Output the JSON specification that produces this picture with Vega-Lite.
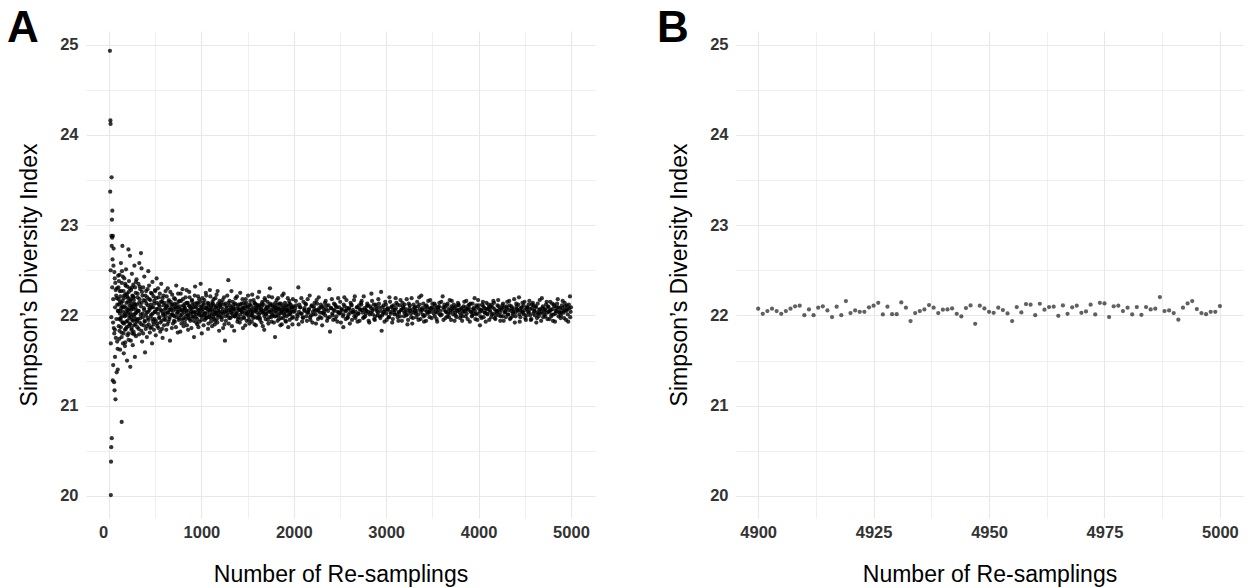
{
"$schema": "https://vega.github.io/schema/vega-lite/v6.json",
"background": "white",
"autosize": {"type": "pad"},
"padding": {"left": 7, "top": 6, "right": 4, "bottom": 4},
"spacing": 141,
"bounds": "flush",
"config": {
  "view": {"stroke": null},
  "font": "Liberation Sans",
  "axis": {
    "domain": false, "ticks": false, "labelFlush": false,
    "labelFont": "Liberation Sans", "labelFontSize": 16.5, "labelFontWeight": "bold", "labelColor": "#333333",
    "titleFont": "Liberation Sans", "titleFontSize": 23, "titleFontWeight": "normal", "titleColor": "#000000",
    "gridColor": "#E8E8E8"
  }
},
"datasets": {
"a": [
{"n":10,"sdi":24.93},{"n":15,"sdi":24.16},{"n":17,"sdi":24.12},{"n":28,"sdi":23.53},{"n":13,"sdi":23.37},{"n":36,"sdi":23.16},{"n":32,"sdi":23.06},{"n":20,"sdi":20.01},{"n":22,"sdi":20.38},{"n":24,"sdi":20.54},{"n":30,"sdi":20.64},{"n":137,"sdi":20.82},{"n":70,"sdi":21.07},{"n":60,"sdi":21.17},{"n":40,"sdi":21.28},{"n":55,"sdi":21.26},{"n":83,"sdi":21.37},{"n":95,"sdi":21.40},{"n":45,"sdi":21.45},{"n":65,"sdi":21.54},{"n":20,"sdi":21.69},{"n":26,"sdi":22.88},{"n":34,"sdi":22.86},{"n":42,"sdi":22.88},{"n":30,"sdi":22.77},{"n":50,"sdi":22.74},{"n":38,"sdi":22.62},{"n":48,"sdi":22.55},{"n":58,"sdi":22.48},{"n":62,"sdi":22.41},{"n":68,"sdi":22.36},{"n":72,"sdi":22.28},{"n":78,"sdi":22.22},{"n":85,"sdi":22.19},{"n":90,"sdi":22.12},{"n":96,"sdi":22.05},{"n":25,"sdi":21.98},{"n":44,"sdi":21.92},{"n":52,"sdi":21.86},{"n":57,"sdi":21.80},{"n":74,"sdi":21.75},{"n":88,"sdi":21.71},{"n":93,"sdi":21.63},{"n":35,"sdi":22.31},{"n":46,"sdi":22.18},{"n":66,"sdi":22.09},{"n":80,"sdi":21.96},{"n":99,"sdi":22.44},{"n":18,"sdi":22.50},{"n":64,"sdi":21.84},{"n":86,"sdi":22.30},
{"n":102,"sdi":22.31},{"n":105,"sdi":21.88},{"n":108,"sdi":22.12},{"n":111,"sdi":21.74},{"n":114,"sdi":22.45},{"n":117,"sdi":22.02},{"n":120,"sdi":21.62},{"n":123,"sdi":22.21},{"n":126,"sdi":21.95},{"n":129,"sdi":22.58},{"n":132,"sdi":22.08},{"n":135,"sdi":21.81},{"n":138,"sdi":22.36},{"n":141,"sdi":21.99},{"n":145,"sdi":22.77},{"n":148,"sdi":22.16},{"n":151,"sdi":21.69},{"n":154,"sdi":22.04},{"n":157,"sdi":22.27},{"n":160,"sdi":21.58},{"n":163,"sdi":21.91},{"n":166,"sdi":22.41},{"n":169,"sdi":22.10},{"n":172,"sdi":21.84},{"n":175,"sdi":21.70},{"n":178,"sdi":22.23},{"n":181,"sdi":22.00},{"n":184,"sdi":22.51},{"n":187,"sdi":21.93},{"n":190,"sdi":22.14},{"n":195,"sdi":21.50},{"n":198,"sdi":22.32},{"n":201,"sdi":21.78},{"n":204,"sdi":22.06},{"n":207,"sdi":22.19},{"n":210,"sdi":22.73},{"n":213,"sdi":21.88},{"n":216,"sdi":22.38},{"n":219,"sdi":21.97},{"n":222,"sdi":22.11},{"n":227,"sdi":22.66},{"n":230,"sdi":21.43},{"n":233,"sdi":22.02},{"n":236,"sdi":21.72},{"n":239,"sdi":22.28},{"n":242,"sdi":22.13},{"n":245,"sdi":21.86},{"n":248,"sdi":22.46},{"n":251,"sdi":21.95},{"n":254,"sdi":22.22},{"n":257,"sdi":21.67},{"n":260,"sdi":22.07},{"n":263,"sdi":22.34},{"n":266,"sdi":21.82},{"n":269,"sdi":22.17},{"n":272,"sdi":21.99},{"n":275,"sdi":22.55},{"n":280,"sdi":21.54},{"n":283,"sdi":22.09},{"n":286,"sdi":21.90},{"n":289,"sdi":22.25},{"n":292,"sdi":21.77},{"n":295,"sdi":22.03},{"n":298,"sdi":22.40},
{"n":104,"sdi":22.18},{"n":110,"sdi":21.96},{"n":116,"sdi":22.27},{"n":122,"sdi":22.05},{"n":128,"sdi":21.87},{"n":134,"sdi":22.14},{"n":140,"sdi":22.49},{"n":146,"sdi":21.92},{"n":152,"sdi":22.09},{"n":158,"sdi":21.80},{"n":164,"sdi":22.22},{"n":170,"sdi":21.99},{"n":176,"sdi":22.35},{"n":182,"sdi":21.85},{"n":188,"sdi":22.04},{"n":194,"sdi":22.24},{"n":200,"sdi":21.94},{"n":206,"sdi":22.15},{"n":212,"sdi":21.73},{"n":218,"sdi":22.07},{"n":224,"sdi":22.30},{"n":228,"sdi":21.90},{"n":234,"sdi":22.18},{"n":240,"sdi":21.98},{"n":246,"sdi":22.10},{"n":252,"sdi":21.80},{"n":258,"sdi":22.21},{"n":264,"sdi":22.01},{"n":270,"sdi":21.89},{"n":276,"sdi":22.13},{"n":282,"sdi":22.31},{"n":288,"sdi":21.96},{"n":294,"sdi":22.06},
{"n":101,"sdi":22.05},{"n":107,"sdi":22.38},{"n":113,"sdi":21.83},{"n":119,"sdi":22.15},{"n":125,"sdi":21.97},{"n":131,"sdi":22.27},{"n":137,"sdi":21.76},{"n":143,"sdi":22.10},{"n":149,"sdi":22.43},{"n":155,"sdi":21.92},{"n":161,"sdi":22.19},{"n":167,"sdi":22.01},{"n":173,"sdi":21.66},{"n":179,"sdi":22.33},{"n":185,"sdi":22.08},{"n":191,"sdi":21.87},{"n":197,"sdi":22.21},{"n":203,"sdi":22.03},{"n":209,"sdi":21.80},{"n":215,"sdi":22.26},{"n":221,"sdi":22.00},{"n":225,"sdi":21.91},{"n":231,"sdi":22.16},{"n":237,"sdi":22.06},{"n":243,"sdi":21.84},{"n":249,"sdi":22.31},{"n":255,"sdi":22.09},{"n":261,"sdi":21.94},{"n":267,"sdi":22.20},{"n":273,"sdi":21.79},{"n":279,"sdi":22.12},{"n":285,"sdi":22.02},{"n":291,"sdi":22.37},{"n":297,"sdi":21.93},
{"n":328,"sdi":22.58},{"n":346,"sdi":22.69},{"n":352,"sdi":22.52},{"n":390,"sdi":21.59},{"n":425,"sdi":22.49},{"n":515,"sdi":22.41},
{"n":302,"sdi":22.12},{"n":306,"sdi":21.87},{"n":310,"sdi":22.24},{"n":314,"sdi":21.96},{"n":318,"sdi":22.35},{"n":322,"sdi":22.05},{"n":326,"sdi":21.79},{"n":330,"sdi":22.18},{"n":334,"sdi":21.92},{"n":338,"sdi":22.29},{"n":342,"sdi":22.01},{"n":350,"sdi":21.83},{"n":354,"sdi":22.14},{"n":358,"sdi":21.71},{"n":362,"sdi":22.22},{"n":366,"sdi":21.98},{"n":370,"sdi":22.31},{"n":374,"sdi":21.89},{"n":378,"sdi":22.08},{"n":382,"sdi":22.43},{"n":386,"sdi":21.94},{"n":394,"sdi":22.16},{"n":398,"sdi":21.85},{"n":402,"sdi":22.27},{"n":406,"sdi":22.03},{"n":410,"sdi":21.76},{"n":414,"sdi":22.20},{"n":418,"sdi":21.97},{"n":422,"sdi":22.11},{"n":430,"sdi":21.90},{"n":434,"sdi":22.33},{"n":438,"sdi":22.06},{"n":442,"sdi":21.81},{"n":446,"sdi":22.17},{"n":450,"sdi":21.99},{"n":454,"sdi":22.25},{"n":458,"sdi":21.87},{"n":462,"sdi":22.09},{"n":466,"sdi":21.69},{"n":470,"sdi":22.37},{"n":474,"sdi":22.02},{"n":478,"sdi":21.93},{"n":482,"sdi":22.21},{"n":486,"sdi":21.84},{"n":490,"sdi":22.13},{"n":494,"sdi":21.96},{"n":498,"sdi":22.28},{"n":502,"sdi":22.04},{"n":506,"sdi":21.78},{"n":510,"sdi":22.19},{"n":520,"sdi":21.91},{"n":525,"sdi":22.07},{"n":530,"sdi":22.30},{"n":535,"sdi":21.86},{"n":540,"sdi":22.12},{"n":545,"sdi":21.98},{"n":550,"sdi":22.24},{"n":555,"sdi":21.82},{"n":560,"sdi":22.06},{"n":565,"sdi":22.35},{"n":570,"sdi":21.94},{"n":575,"sdi":22.15},{"n":580,"sdi":21.75},{"n":585,"sdi":22.02},{"n":590,"sdi":22.22},{"n":595,"sdi":21.89},
{"n":303,"sdi":21.95},{"n":309,"sdi":22.20},{"n":315,"sdi":22.05},{"n":321,"sdi":21.85},{"n":327,"sdi":22.14},{"n":333,"sdi":22.32},{"n":339,"sdi":21.97},{"n":345,"sdi":22.10},{"n":351,"sdi":21.90},{"n":357,"sdi":22.26},{"n":363,"sdi":22.02},{"n":369,"sdi":21.80},{"n":375,"sdi":22.17},{"n":381,"sdi":22.06},{"n":387,"sdi":21.93},{"n":393,"sdi":22.22},{"n":399,"sdi":22.00},{"n":405,"sdi":22.13},{"n":411,"sdi":21.88},{"n":417,"sdi":22.29},{"n":423,"sdi":22.04},{"n":429,"sdi":21.95},{"n":435,"sdi":22.18},{"n":441,"sdi":22.08},{"n":447,"sdi":21.86},{"n":453,"sdi":22.12},{"n":459,"sdi":22.01},{"n":465,"sdi":22.24},{"n":471,"sdi":21.96},{"n":477,"sdi":22.09},{"n":483,"sdi":21.90},{"n":489,"sdi":22.16},{"n":495,"sdi":22.04},{"n":501,"sdi":22.27},{"n":507,"sdi":21.94},{"n":513,"sdi":22.07},{"n":519,"sdi":22.14},{"n":524,"sdi":21.88},{"n":531,"sdi":22.02},{"n":537,"sdi":22.20},{"n":543,"sdi":21.97},{"n":549,"sdi":22.10},{"n":556,"sdi":21.92},{"n":562,"sdi":22.15},{"n":568,"sdi":22.05},{"n":574,"sdi":21.85},{"n":579,"sdi":22.19},{"n":586,"sdi":22.00},{"n":592,"sdi":22.11},{"n":597,"sdi":21.96},
{"n":600,"sdi":22.14},{"n":608,"sdi":21.95},{"n":616,"sdi":22.08},{"n":624,"sdi":22.21},{"n":632,"sdi":21.90},{"n":640,"sdi":22.03},{"n":648,"sdi":22.17},{"n":656,"sdi":21.98},{"n":664,"sdi":22.26},{"n":672,"sdi":22.06},{"n":680,"sdi":21.86},{"n":688,"sdi":22.12},{"n":696,"sdi":22.00},{"n":704,"sdi":22.19},{"n":712,"sdi":21.93},{"n":720,"sdi":22.09},{"n":728,"sdi":22.33},{"n":736,"sdi":22.02},{"n":744,"sdi":21.81},{"n":752,"sdi":22.15},{"n":760,"sdi":21.97},{"n":768,"sdi":22.10},{"n":776,"sdi":22.24},{"n":784,"sdi":21.91},{"n":792,"sdi":22.05},{"n":800,"sdi":22.18},{"n":808,"sdi":21.88},{"n":816,"sdi":22.07},{"n":824,"sdi":22.13},{"n":832,"sdi":21.96},{"n":840,"sdi":22.28},{"n":848,"sdi":22.01},{"n":856,"sdi":21.84},{"n":864,"sdi":22.11},{"n":872,"sdi":22.20},{"n":880,"sdi":21.94},{"n":888,"sdi":22.04},{"n":896,"sdi":22.16},{"n":904,"sdi":21.99},{"n":912,"sdi":22.09},{"n":920,"sdi":21.76},{"n":928,"sdi":22.22},{"n":936,"sdi":22.03},{"n":944,"sdi":21.92},{"n":952,"sdi":22.14},{"n":960,"sdi":22.06},{"n":968,"sdi":21.87},{"n":976,"sdi":22.18},{"n":984,"sdi":22.00},{"n":992,"sdi":22.35},{"n":1000,"sdi":21.95},{"n":1008,"sdi":22.10},{"n":1016,"sdi":22.04},{"n":1024,"sdi":21.89},{"n":1032,"sdi":22.17},{"n":1040,"sdi":22.02},{"n":1048,"sdi":22.25},{"n":1056,"sdi":21.97},{"n":1064,"sdi":22.08},{"n":1072,"sdi":21.85},{"n":1080,"sdi":22.13},{"n":1088,"sdi":22.01},{"n":1096,"sdi":22.21},{"n":1104,"sdi":21.93},{"n":1112,"sdi":22.07},{"n":1120,"sdi":22.15},{"n":1128,"sdi":21.98},{"n":1136,"sdi":22.11},{"n":1144,"sdi":21.90},{"n":1152,"sdi":22.19},{"n":1160,"sdi":22.03},{"n":1168,"sdi":21.96},{"n":1176,"sdi":22.27},{"n":1184,"sdi":22.05},{"n":1192,"sdi":21.83},{"n":1200,"sdi":22.12},
{"n":604,"sdi":22.02},{"n":612,"sdi":22.27},{"n":620,"sdi":21.84},{"n":628,"sdi":22.11},{"n":636,"sdi":22.30},{"n":644,"sdi":21.93},{"n":652,"sdi":22.06},{"n":660,"sdi":21.72},{"n":668,"sdi":22.15},{"n":676,"sdi":22.01},{"n":684,"sdi":22.23},{"n":692,"sdi":21.91},{"n":700,"sdi":22.09},{"n":708,"sdi":21.99},{"n":716,"sdi":22.18},{"n":724,"sdi":21.87},{"n":732,"sdi":22.12},{"n":740,"sdi":22.04},{"n":748,"sdi":22.24},{"n":756,"sdi":21.95},{"n":764,"sdi":22.07},{"n":772,"sdi":21.82},{"n":780,"sdi":22.16},{"n":788,"sdi":22.01},{"n":796,"sdi":22.29},{"n":804,"sdi":21.97},{"n":812,"sdi":22.10},{"n":820,"sdi":21.92},{"n":828,"sdi":22.20},{"n":836,"sdi":22.05},{"n":844,"sdi":21.89},{"n":852,"sdi":22.14},{"n":860,"sdi":22.00},{"n":868,"sdi":22.26},{"n":876,"sdi":21.96},{"n":884,"sdi":22.08},{"n":892,"sdi":21.86},{"n":900,"sdi":22.17},{"n":908,"sdi":22.03},{"n":916,"sdi":21.94},{"n":924,"sdi":22.13},{"n":932,"sdi":22.32},{"n":940,"sdi":21.98},{"n":948,"sdi":22.10},{"n":956,"sdi":21.90},{"n":964,"sdi":22.21},{"n":972,"sdi":22.02},{"n":980,"sdi":21.93},{"n":988,"sdi":22.15},{"n":996,"sdi":22.07},{"n":1004,"sdi":21.80},{"n":1012,"sdi":22.19},{"n":1020,"sdi":22.00},{"n":1028,"sdi":22.12},{"n":1036,"sdi":21.95},{"n":1044,"sdi":22.08},{"n":1052,"sdi":22.22},{"n":1060,"sdi":21.99},{"n":1068,"sdi":22.14},{"n":1076,"sdi":21.91},{"n":1084,"sdi":22.06},{"n":1092,"sdi":22.28},{"n":1100,"sdi":21.97},{"n":1108,"sdi":22.11},{"n":1116,"sdi":21.88},{"n":1124,"sdi":22.04},{"n":1132,"sdi":22.18},{"n":1140,"sdi":22.01},{"n":1148,"sdi":21.94},{"n":1156,"sdi":22.09},{"n":1164,"sdi":22.23},{"n":1172,"sdi":21.92},{"n":1180,"sdi":22.13},{"n":1188,"sdi":22.00},{"n":1196,"sdi":22.16},
{"n":603,"sdi":22.06},{"n":613,"sdi":21.99},{"n":623,"sdi":22.10},{"n":633,"sdi":22.03},{"n":643,"sdi":22.15},{"n":653,"sdi":21.96},{"n":663,"sdi":22.08},{"n":673,"sdi":22.12},{"n":683,"sdi":22.01},{"n":693,"sdi":22.05},{"n":703,"sdi":21.94},{"n":713,"sdi":22.13},{"n":723,"sdi":22.07},{"n":733,"sdi":21.98},{"n":743,"sdi":22.09},{"n":753,"sdi":22.04},{"n":763,"sdi":22.16},{"n":773,"sdi":22.00},{"n":783,"sdi":22.06},{"n":793,"sdi":21.95},{"n":803,"sdi":22.11},{"n":813,"sdi":22.03},{"n":823,"sdi":22.08},{"n":833,"sdi":21.99},{"n":843,"sdi":22.14},{"n":853,"sdi":22.05},{"n":863,"sdi":21.97},{"n":873,"sdi":22.10},{"n":883,"sdi":22.02},{"n":893,"sdi":22.07},{"n":903,"sdi":22.12},{"n":913,"sdi":21.98},{"n":923,"sdi":22.04},{"n":933,"sdi":22.09},{"n":943,"sdi":22.01},{"n":953,"sdi":21.96},{"n":963,"sdi":22.13},{"n":973,"sdi":22.06},{"n":983,"sdi":22.03},{"n":993,"sdi":22.10},{"n":1003,"sdi":21.99},{"n":1013,"sdi":22.07},{"n":1023,"sdi":22.14},{"n":1033,"sdi":22.02},{"n":1043,"sdi":21.97},{"n":1053,"sdi":22.08},{"n":1063,"sdi":22.04},{"n":1073,"sdi":22.11},{"n":1083,"sdi":21.98},{"n":1093,"sdi":22.05},{"n":1103,"sdi":22.09},{"n":1113,"sdi":22.01},{"n":1123,"sdi":22.13},{"n":1133,"sdi":21.96},{"n":1143,"sdi":22.06},{"n":1153,"sdi":22.03},{"n":1163,"sdi":22.10},{"n":1173,"sdi":22.00},{"n":1183,"sdi":22.08},{"n":1193,"sdi":22.04},
{"n":1210,"sdi":22.09},{"n":1220,"sdi":21.95},{"n":1230,"sdi":22.17},{"n":1240,"sdi":22.02},{"n":1250,"sdi":21.90},{"n":1255,"sdi":21.72},{"n":1260,"sdi":22.13},{"n":1270,"sdi":22.05},{"n":1280,"sdi":22.22},{"n":1291,"sdi":22.39},{"n":1300,"sdi":21.97},{"n":1310,"sdi":22.11},{"n":1320,"sdi":22.03},{"n":1330,"sdi":21.88},{"n":1340,"sdi":22.15},{"n":1350,"sdi":22.07},{"n":1360,"sdi":21.99},{"n":1370,"sdi":22.19},{"n":1380,"sdi":22.01},{"n":1390,"sdi":21.93},{"n":1400,"sdi":22.12},{"n":1410,"sdi":22.06},{"n":1420,"sdi":22.25},{"n":1430,"sdi":21.96},{"n":1440,"sdi":22.08},{"n":1450,"sdi":21.86},{"n":1460,"sdi":22.14},{"n":1470,"sdi":22.02},{"n":1480,"sdi":22.18},{"n":1490,"sdi":21.94},{"n":1500,"sdi":22.10},{"n":1510,"sdi":22.04},{"n":1520,"sdi":21.91},{"n":1530,"sdi":22.16},{"n":1540,"sdi":22.00},{"n":1550,"sdi":22.23},{"n":1560,"sdi":21.97},{"n":1570,"sdi":22.09},{"n":1580,"sdi":22.13},{"n":1590,"sdi":21.89},{"n":1600,"sdi":22.06},{"n":1610,"sdi":22.20},{"n":1620,"sdi":21.98},{"n":1630,"sdi":22.11},{"n":1640,"sdi":22.03},{"n":1650,"sdi":21.92},{"n":1660,"sdi":22.15},{"n":1670,"sdi":22.05},{"n":1680,"sdi":21.84},{"n":1690,"sdi":22.17},{"n":1700,"sdi":22.01},{"n":1710,"sdi":22.10},{"n":1720,"sdi":21.95},{"n":1730,"sdi":22.21},{"n":1742,"sdi":22.30},{"n":1750,"sdi":22.04},{"n":1760,"sdi":21.93},{"n":1770,"sdi":22.12},{"n":1780,"sdi":22.07},{"n":1797,"sdi":21.76},{"n":1800,"sdi":22.14},{"n":1810,"sdi":21.99},{"n":1820,"sdi":22.08},{"n":1830,"sdi":22.19},{"n":1840,"sdi":21.96},{"n":1850,"sdi":22.02},{"n":1860,"sdi":22.13},{"n":1870,"sdi":21.90},{"n":1880,"sdi":22.06},{"n":1890,"sdi":22.24},{"n":1900,"sdi":22.00},{"n":1910,"sdi":21.94},{"n":1920,"sdi":22.11},{"n":1930,"sdi":22.05},{"n":1940,"sdi":21.87},{"n":1950,"sdi":22.16},{"n":1960,"sdi":22.03},{"n":1970,"sdi":22.09},{"n":1980,"sdi":21.97},{"n":1990,"sdi":22.18},{"n":2000,"sdi":22.04},
{"n":1205,"sdi":21.98},{"n":1215,"sdi":22.14},{"n":1225,"sdi":22.04},{"n":1235,"sdi":21.86},{"n":1245,"sdi":22.20},{"n":1265,"sdi":21.94},{"n":1275,"sdi":22.10},{"n":1285,"sdi":22.00},{"n":1295,"sdi":21.91},{"n":1305,"sdi":22.16},{"n":1315,"sdi":22.06},{"n":1325,"sdi":22.27},{"n":1335,"sdi":21.99},{"n":1345,"sdi":22.09},{"n":1355,"sdi":21.83},{"n":1365,"sdi":22.13},{"n":1375,"sdi":22.02},{"n":1385,"sdi":22.21},{"n":1395,"sdi":21.96},{"n":1405,"sdi":22.07},{"n":1415,"sdi":21.92},{"n":1425,"sdi":22.12},{"n":1435,"sdi":22.04},{"n":1445,"sdi":22.18},{"n":1455,"sdi":21.98},{"n":1465,"sdi":22.08},{"n":1475,"sdi":21.89},{"n":1485,"sdi":22.14},{"n":1495,"sdi":22.01},{"n":1505,"sdi":22.22},{"n":1515,"sdi":21.95},{"n":1525,"sdi":22.06},{"n":1535,"sdi":22.11},{"n":1545,"sdi":21.93},{"n":1555,"sdi":22.03},{"n":1565,"sdi":22.17},{"n":1575,"sdi":21.90},{"n":1585,"sdi":22.05},{"n":1595,"sdi":22.12},{"n":1605,"sdi":21.97},{"n":1615,"sdi":22.09},{"n":1625,"sdi":22.26},{"n":1635,"sdi":21.95},{"n":1645,"sdi":22.07},{"n":1655,"sdi":22.13},{"n":1665,"sdi":21.88},{"n":1675,"sdi":22.02},{"n":1685,"sdi":22.19},{"n":1695,"sdi":21.96},{"n":1705,"sdi":22.08},{"n":1715,"sdi":22.15},{"n":1725,"sdi":21.91},{"n":1735,"sdi":22.04},{"n":1745,"sdi":22.11},{"n":1755,"sdi":21.98},{"n":1765,"sdi":22.20},{"n":1775,"sdi":22.00},{"n":1785,"sdi":21.92},{"n":1795,"sdi":22.10},{"n":1805,"sdi":22.05},{"n":1815,"sdi":22.17},{"n":1825,"sdi":21.94},{"n":1835,"sdi":22.07},{"n":1845,"sdi":22.13},{"n":1855,"sdi":21.89},{"n":1865,"sdi":22.03},{"n":1875,"sdi":22.22},{"n":1885,"sdi":21.97},{"n":1895,"sdi":22.09},{"n":1905,"sdi":22.14},{"n":1915,"sdi":21.93},{"n":1925,"sdi":22.06},{"n":1935,"sdi":22.19},{"n":1945,"sdi":22.01},{"n":1955,"sdi":21.95},{"n":1965,"sdi":22.12},{"n":1975,"sdi":22.07},{"n":1985,"sdi":21.90},{"n":1995,"sdi":22.10},
{"n":1203,"sdi":22.11},{"n":1213,"sdi":22.02},{"n":1223,"sdi":21.98},{"n":1233,"sdi":22.07},{"n":1243,"sdi":22.12},{"n":1253,"sdi":22.04},{"n":1263,"sdi":21.99},{"n":1273,"sdi":22.08},{"n":1283,"sdi":22.03},{"n":1293,"sdi":22.14},{"n":1303,"sdi":22.06},{"n":1313,"sdi":21.97},{"n":1323,"sdi":22.09},{"n":1333,"sdi":22.02},{"n":1343,"sdi":22.05},{"n":1353,"sdi":22.12},{"n":1363,"sdi":21.99},{"n":1373,"sdi":22.07},{"n":1383,"sdi":22.03},{"n":1393,"sdi":22.10},{"n":1403,"sdi":21.98},{"n":1413,"sdi":22.06},{"n":1423,"sdi":22.01},{"n":1433,"sdi":22.13},{"n":1443,"sdi":22.04},{"n":1453,"sdi":22.08},{"n":1463,"sdi":21.97},{"n":1473,"sdi":22.11},{"n":1483,"sdi":22.05},{"n":1493,"sdi":22.02},{"n":1503,"sdi":22.09},{"n":1513,"sdi":21.99},{"n":1523,"sdi":22.12},{"n":1533,"sdi":22.03},{"n":1543,"sdi":22.07},{"n":1553,"sdi":22.00},{"n":1563,"sdi":22.05},{"n":1573,"sdi":22.14},{"n":1583,"sdi":21.98},{"n":1593,"sdi":22.08},{"n":1603,"sdi":22.03},{"n":1613,"sdi":22.11},{"n":1623,"sdi":22.01},{"n":1633,"sdi":21.97},{"n":1643,"sdi":22.06},{"n":1653,"sdi":22.10},{"n":1663,"sdi":22.04},{"n":1673,"sdi":22.12},{"n":1683,"sdi":21.99},{"n":1693,"sdi":22.07},{"n":1703,"sdi":22.02},{"n":1713,"sdi":22.05},{"n":1723,"sdi":22.09},{"n":1733,"sdi":21.98},{"n":1743,"sdi":22.13},{"n":1753,"sdi":22.06},{"n":1763,"sdi":22.01},{"n":1773,"sdi":22.10},{"n":1783,"sdi":22.04},{"n":1793,"sdi":21.99},{"n":1803,"sdi":22.08},{"n":1813,"sdi":22.03},{"n":1823,"sdi":22.12},{"n":1833,"sdi":22.00},{"n":1843,"sdi":22.06},{"n":1853,"sdi":22.09},{"n":1863,"sdi":21.97},{"n":1873,"sdi":22.05},{"n":1883,"sdi":22.11},{"n":1893,"sdi":22.02},{"n":1903,"sdi":22.07},{"n":1913,"sdi":22.04},{"n":1923,"sdi":21.99},{"n":1933,"sdi":22.10},{"n":1943,"sdi":22.06},{"n":1953,"sdi":22.13},{"n":1963,"sdi":22.01},{"n":1973,"sdi":22.04},{"n":1983,"sdi":22.09},{"n":1993,"sdi":21.98},
{"n":2015,"sdi":22.08},{"n":2030,"sdi":21.96},{"n":2049,"sdi":22.31},{"n":2060,"sdi":22.12},{"n":2075,"sdi":22.02},{"n":2090,"sdi":21.93},{"n":2105,"sdi":22.15},{"n":2120,"sdi":22.05},{"n":2135,"sdi":21.99},{"n":2150,"sdi":22.18},{"n":2165,"sdi":22.07},{"n":2180,"sdi":21.95},{"n":2195,"sdi":22.11},{"n":2210,"sdi":22.01},{"n":2225,"sdi":22.14},{"n":2240,"sdi":21.91},{"n":2255,"sdi":22.06},{"n":2270,"sdi":22.20},{"n":2285,"sdi":22.03},{"n":2300,"sdi":21.97},{"n":2315,"sdi":22.10},{"n":2330,"sdi":22.04},{"n":2345,"sdi":22.16},{"n":2360,"sdi":21.94},{"n":2385,"sdi":22.29},{"n":2392,"sdi":21.82},{"n":2405,"sdi":22.08},{"n":2420,"sdi":22.00},{"n":2435,"sdi":22.13},{"n":2450,"sdi":21.96},{"n":2465,"sdi":22.09},{"n":2480,"sdi":22.19},{"n":2495,"sdi":22.02},{"n":2510,"sdi":21.92},{"n":2536,"sdi":21.87},{"n":2540,"sdi":22.12},{"n":2555,"sdi":22.05},{"n":2570,"sdi":22.17},{"n":2585,"sdi":21.98},{"n":2600,"sdi":22.07},{"n":2615,"sdi":22.14},{"n":2630,"sdi":21.95},{"n":2645,"sdi":22.03},{"n":2660,"sdi":22.21},{"n":2675,"sdi":22.00},{"n":2690,"sdi":21.93},{"n":2705,"sdi":22.11},{"n":2720,"sdi":22.06},{"n":2735,"sdi":22.16},{"n":2750,"sdi":21.97},{"n":2765,"sdi":22.08},{"n":2780,"sdi":22.02},{"n":2795,"sdi":22.13},{"n":2810,"sdi":21.94},{"n":2825,"sdi":22.10},{"n":2840,"sdi":22.24},{"n":2855,"sdi":22.01},{"n":2870,"sdi":21.96},{"n":2885,"sdi":22.12},{"n":2900,"sdi":22.05},{"n":2915,"sdi":22.18},{"n":2930,"sdi":21.99},{"n":2951,"sdi":21.83},{"n":2960,"sdi":22.09},{"n":2975,"sdi":22.04},{"n":2990,"sdi":22.15},{"n":3005,"sdi":21.95},{"n":3020,"sdi":22.07},{"n":3035,"sdi":22.20},{"n":3050,"sdi":22.02},{"n":3065,"sdi":21.92},{"n":3080,"sdi":22.11},{"n":3095,"sdi":22.06},{"n":3110,"sdi":22.14},{"n":3125,"sdi":21.98},{"n":3140,"sdi":22.03},{"n":3155,"sdi":22.17},{"n":3170,"sdi":21.94},{"n":3185,"sdi":22.08},{"n":3200,"sdi":22.12},{"n":3215,"sdi":22.00},{"n":3230,"sdi":21.90},{"n":3245,"sdi":22.13},{"n":3260,"sdi":22.05},{"n":3275,"sdi":22.19},{"n":3290,"sdi":21.97},{"n":3305,"sdi":22.09},{"n":3320,"sdi":22.02},{"n":3335,"sdi":22.15},{"n":3350,"sdi":21.95},{"n":3365,"sdi":22.07},{"n":3380,"sdi":22.22},{"n":3395,"sdi":22.01},{"n":3410,"sdi":21.93},{"n":3425,"sdi":22.10},{"n":3440,"sdi":22.04},{"n":3455,"sdi":22.16},{"n":3470,"sdi":21.98},{"n":3485,"sdi":22.08},{"n":3500,"sdi":22.13},
{"n":2022,"sdi":22.16},{"n":2037,"sdi":22.01},{"n":2052,"sdi":21.90},{"n":2067,"sdi":22.09},{"n":2082,"sdi":22.19},{"n":2097,"sdi":21.98},{"n":2112,"sdi":22.06},{"n":2127,"sdi":22.13},{"n":2142,"sdi":21.94},{"n":2157,"sdi":22.03},{"n":2172,"sdi":22.22},{"n":2187,"sdi":22.00},{"n":2202,"sdi":21.92},{"n":2217,"sdi":22.10},{"n":2232,"sdi":22.05},{"n":2247,"sdi":22.17},{"n":2262,"sdi":21.96},{"n":2277,"sdi":22.08},{"n":2292,"sdi":22.12},{"n":2307,"sdi":21.89},{"n":2322,"sdi":22.02},{"n":2337,"sdi":22.14},{"n":2352,"sdi":22.07},{"n":2367,"sdi":21.97},{"n":2377,"sdi":22.11},{"n":2412,"sdi":22.18},{"n":2427,"sdi":21.95},{"n":2442,"sdi":22.05},{"n":2457,"sdi":22.10},{"n":2472,"sdi":21.93},{"n":2487,"sdi":22.03},{"n":2502,"sdi":22.15},{"n":2517,"sdi":22.06},{"n":2532,"sdi":21.99},{"n":2547,"sdi":22.20},{"n":2562,"sdi":21.96},{"n":2577,"sdi":22.08},{"n":2592,"sdi":22.01},{"n":2607,"sdi":21.91},{"n":2622,"sdi":22.12},{"n":2637,"sdi":22.04},{"n":2652,"sdi":22.17},{"n":2667,"sdi":21.97},{"n":2682,"sdi":22.09},{"n":2697,"sdi":22.02},{"n":2712,"sdi":21.94},{"n":2727,"sdi":22.14},{"n":2742,"sdi":22.06},{"n":2757,"sdi":22.21},{"n":2772,"sdi":21.99},{"n":2787,"sdi":22.05},{"n":2802,"sdi":22.11},{"n":2817,"sdi":21.92},{"n":2832,"sdi":22.03},{"n":2847,"sdi":22.16},{"n":2862,"sdi":22.07},{"n":2877,"sdi":21.95},{"n":2892,"sdi":22.10},{"n":2907,"sdi":22.00},{"n":2922,"sdi":22.13},{"n":2937,"sdi":21.97},{"n":2945,"sdi":22.26},{"n":2967,"sdi":22.02},{"n":2982,"sdi":21.93},{"n":2997,"sdi":22.12},{"n":3012,"sdi":22.06},{"n":3027,"sdi":21.98},{"n":3042,"sdi":22.15},{"n":3057,"sdi":22.09},{"n":3072,"sdi":21.96},{"n":3087,"sdi":22.03},{"n":3102,"sdi":22.19},{"n":3117,"sdi":22.01},{"n":3132,"sdi":21.94},{"n":3147,"sdi":22.11},{"n":3162,"sdi":22.06},{"n":3177,"sdi":22.14},{"n":3192,"sdi":21.99},{"n":3207,"sdi":22.04},{"n":3222,"sdi":22.18},{"n":3237,"sdi":21.95},{"n":3252,"sdi":22.08},{"n":3267,"sdi":22.02},{"n":3282,"sdi":21.91},{"n":3297,"sdi":22.12},{"n":3312,"sdi":22.05},{"n":3327,"sdi":21.98},{"n":3342,"sdi":22.10},{"n":3357,"sdi":22.20},{"n":3372,"sdi":21.96},{"n":3387,"sdi":22.06},{"n":3402,"sdi":22.13},{"n":3417,"sdi":22.00},{"n":3432,"sdi":21.94},{"n":3447,"sdi":22.09},{"n":3462,"sdi":22.04},{"n":3477,"sdi":22.17},{"n":3492,"sdi":21.97},
{"n":2011,"sdi":22.05},{"n":2026,"sdi":22.11},{"n":2041,"sdi":21.99},{"n":2056,"sdi":22.04},{"n":2071,"sdi":22.09},{"n":2086,"sdi":22.02},{"n":2101,"sdi":21.97},{"n":2116,"sdi":22.08},{"n":2131,"sdi":22.12},{"n":2146,"sdi":22.03},{"n":2161,"sdi":22.06},{"n":2176,"sdi":21.98},{"n":2191,"sdi":22.10},{"n":2206,"sdi":22.04},{"n":2221,"sdi":22.07},{"n":2236,"sdi":22.01},{"n":2251,"sdi":22.13},{"n":2266,"sdi":22.05},{"n":2281,"sdi":21.98},{"n":2296,"sdi":22.09},{"n":2311,"sdi":22.03},{"n":2326,"sdi":22.07},{"n":2341,"sdi":22.00},{"n":2356,"sdi":22.11},{"n":2371,"sdi":22.05},{"n":2386,"sdi":21.98},{"n":2401,"sdi":22.08},{"n":2416,"sdi":22.02},{"n":2431,"sdi":22.06},{"n":2446,"sdi":22.12},{"n":2461,"sdi":21.99},{"n":2476,"sdi":22.04},{"n":2491,"sdi":22.09},{"n":2506,"sdi":22.03},{"n":2521,"sdi":22.07},{"n":2538,"sdi":22.01},{"n":2551,"sdi":22.10},{"n":2566,"sdi":22.05},{"n":2581,"sdi":21.97},{"n":2596,"sdi":22.08},{"n":2611,"sdi":22.03},{"n":2626,"sdi":22.11},{"n":2641,"sdi":22.06},{"n":2656,"sdi":21.99},{"n":2671,"sdi":22.04},{"n":2686,"sdi":22.09},{"n":2701,"sdi":22.02},{"n":2716,"sdi":22.07},{"n":2731,"sdi":22.12},{"n":2746,"sdi":22.03},{"n":2761,"sdi":21.98},{"n":2776,"sdi":22.06},{"n":2791,"sdi":22.10},{"n":2806,"sdi":22.04},{"n":2821,"sdi":22.01},{"n":2836,"sdi":22.08},{"n":2851,"sdi":22.05},{"n":2866,"sdi":22.12},{"n":2881,"sdi":21.99},{"n":2896,"sdi":22.07},{"n":2911,"sdi":22.03},{"n":2926,"sdi":22.09},{"n":2941,"sdi":22.05},{"n":2956,"sdi":22.00},{"n":2971,"sdi":22.11},{"n":2986,"sdi":22.06},{"n":3001,"sdi":22.02},{"n":3016,"sdi":22.08},{"n":3031,"sdi":21.98},{"n":3046,"sdi":22.04},{"n":3061,"sdi":22.10},{"n":3076,"sdi":22.06},{"n":3091,"sdi":22.01},{"n":3106,"sdi":22.08},{"n":3121,"sdi":22.12},{"n":3136,"sdi":22.04},{"n":3151,"sdi":21.99},{"n":3166,"sdi":22.06},{"n":3181,"sdi":22.10},{"n":3196,"sdi":22.03},{"n":3211,"sdi":22.07},{"n":3226,"sdi":22.01},{"n":3241,"sdi":22.05},{"n":3256,"sdi":22.11},{"n":3271,"sdi":21.98},{"n":3286,"sdi":22.06},{"n":3301,"sdi":22.03},{"n":3316,"sdi":22.09},{"n":3331,"sdi":22.05},{"n":3346,"sdi":22.01},{"n":3361,"sdi":22.12},{"n":3376,"sdi":22.04},{"n":3391,"sdi":22.08},{"n":3406,"sdi":21.99},{"n":3421,"sdi":22.06},{"n":3436,"sdi":22.11},{"n":3451,"sdi":22.02},{"n":3466,"sdi":22.07},{"n":3481,"sdi":22.04},{"n":3496,"sdi":22.09},
{"n":3515,"sdi":22.02},{"n":3530,"sdi":22.11},{"n":3545,"sdi":21.96},{"n":3560,"sdi":22.07},{"n":3575,"sdi":22.14},{"n":3590,"sdi":22.00},{"n":3611,"sdi":22.21},{"n":3620,"sdi":21.95},{"n":3635,"sdi":22.09},{"n":3650,"sdi":22.04},{"n":3665,"sdi":22.13},{"n":3680,"sdi":21.98},{"n":3695,"sdi":22.06},{"n":3710,"sdi":22.16},{"n":3725,"sdi":22.01},{"n":3740,"sdi":21.94},{"n":3755,"sdi":22.10},{"n":3770,"sdi":22.05},{"n":3785,"sdi":22.12},{"n":3800,"sdi":21.97},{"n":3815,"sdi":22.08},{"n":3830,"sdi":22.03},{"n":3845,"sdi":22.15},{"n":3860,"sdi":21.99},{"n":3875,"sdi":22.07},{"n":3890,"sdi":22.11},{"n":3905,"sdi":21.93},{"n":3920,"sdi":22.04},{"n":3935,"sdi":22.13},{"n":3950,"sdi":22.02},{"n":3965,"sdi":21.96},{"n":3980,"sdi":22.09},{"n":3995,"sdi":22.17},{"n":4015,"sdi":21.89},{"n":4025,"sdi":22.06},{"n":4040,"sdi":22.12},{"n":4055,"sdi":21.98},{"n":4070,"sdi":22.03},{"n":4085,"sdi":22.14},{"n":4100,"sdi":22.07},{"n":4115,"sdi":21.95},{"n":4130,"sdi":22.10},{"n":4145,"sdi":22.01},{"n":4160,"sdi":22.16},{"n":4175,"sdi":21.97},{"n":4190,"sdi":22.05},{"n":4205,"sdi":22.11},{"n":4220,"sdi":22.00},{"n":4235,"sdi":21.94},{"n":4250,"sdi":22.08},{"n":4265,"sdi":22.13},{"n":4280,"sdi":22.03},{"n":4295,"sdi":21.98},{"n":4310,"sdi":22.15},{"n":4325,"sdi":22.06},{"n":4340,"sdi":21.96},{"n":4355,"sdi":22.10},{"n":4370,"sdi":22.02},{"n":4385,"sdi":22.18},{"n":4400,"sdi":21.99},{"n":4415,"sdi":22.07},{"n":4430,"sdi":22.12},{"n":4445,"sdi":21.93},{"n":4460,"sdi":22.05},{"n":4475,"sdi":22.14},{"n":4490,"sdi":22.01},{"n":4505,"sdi":21.97},{"n":4520,"sdi":22.09},{"n":4535,"sdi":22.04},{"n":4550,"sdi":22.16},{"n":4565,"sdi":21.95},{"n":4580,"sdi":22.08},{"n":4595,"sdi":22.11},{"n":4610,"sdi":22.00},{"n":4625,"sdi":21.92},{"n":4640,"sdi":22.13},{"n":4655,"sdi":22.06},{"n":4670,"sdi":22.02},{"n":4685,"sdi":22.19},{"n":4700,"sdi":21.98},{"n":4715,"sdi":22.07},{"n":4730,"sdi":22.12},{"n":4745,"sdi":21.96},{"n":4760,"sdi":22.04},{"n":4775,"sdi":22.15},{"n":4790,"sdi":22.01},{"n":4805,"sdi":21.94},{"n":4820,"sdi":22.10},{"n":4835,"sdi":22.05},{"n":4850,"sdi":22.13},{"n":4865,"sdi":21.99},{"n":4880,"sdi":22.08},{"n":4895,"sdi":22.03},{"n":4910,"sdi":22.16},{"n":4925,"sdi":21.97},{"n":4940,"sdi":22.06},{"n":4955,"sdi":22.11},{"n":4970,"sdi":21.93},{"n":4989,"sdi":22.21},{"n":5000,"sdi":22.09},
{"n":3522,"sdi":22.13},{"n":3537,"sdi":22.04},{"n":3552,"sdi":21.93},{"n":3567,"sdi":22.09},{"n":3582,"sdi":22.01},{"n":3597,"sdi":22.15},{"n":3627,"sdi":22.06},{"n":3642,"sdi":21.97},{"n":3657,"sdi":22.11},{"n":3672,"sdi":22.02},{"n":3687,"sdi":22.17},{"n":3702,"sdi":21.95},{"n":3717,"sdi":22.08},{"n":3732,"sdi":22.12},{"n":3747,"sdi":22.03},{"n":3762,"sdi":21.98},{"n":3777,"sdi":22.14},{"n":3792,"sdi":22.06},{"n":3807,"sdi":22.00},{"n":3822,"sdi":21.94},{"n":3837,"sdi":22.10},{"n":3852,"sdi":22.05},{"n":3867,"sdi":22.16},{"n":3882,"sdi":21.96},{"n":3897,"sdi":22.08},{"n":3912,"sdi":22.13},{"n":3927,"sdi":21.99},{"n":3942,"sdi":22.07},{"n":3957,"sdi":22.19},{"n":3972,"sdi":22.01},{"n":3987,"sdi":21.95},{"n":4002,"sdi":22.11},{"n":4017,"sdi":22.04},{"n":4032,"sdi":21.97},{"n":4047,"sdi":22.15},{"n":4062,"sdi":22.08},{"n":4077,"sdi":21.93},{"n":4092,"sdi":22.02},{"n":4107,"sdi":22.12},{"n":4122,"sdi":22.06},{"n":4137,"sdi":21.98},{"n":4152,"sdi":22.09},{"n":4167,"sdi":22.14},{"n":4182,"sdi":21.96},{"n":4197,"sdi":22.03},{"n":4212,"sdi":22.17},{"n":4227,"sdi":22.07},{"n":4242,"sdi":21.99},{"n":4257,"sdi":22.11},{"n":4272,"sdi":21.94},{"n":4287,"sdi":22.05},{"n":4302,"sdi":22.10},{"n":4317,"sdi":22.01},{"n":4332,"sdi":22.16},{"n":4347,"sdi":21.97},{"n":4362,"sdi":22.08},{"n":4377,"sdi":22.04},{"n":4392,"sdi":21.92},{"n":4407,"sdi":22.13},{"n":4422,"sdi":22.06},{"n":4437,"sdi":22.20},{"n":4452,"sdi":21.98},{"n":4467,"sdi":22.09},{"n":4482,"sdi":22.03},{"n":4497,"sdi":22.15},{"n":4512,"sdi":21.95},{"n":4527,"sdi":22.07},{"n":4542,"sdi":22.12},{"n":4557,"sdi":22.00},{"n":4572,"sdi":21.96},{"n":4587,"sdi":22.14},{"n":4602,"sdi":22.05},{"n":4617,"sdi":22.10},{"n":4632,"sdi":21.97},{"n":4647,"sdi":22.02},{"n":4662,"sdi":22.17},{"n":4677,"sdi":21.94},{"n":4692,"sdi":22.08},{"n":4707,"sdi":22.04},{"n":4722,"sdi":21.99},{"n":4737,"sdi":22.15},{"n":4752,"sdi":22.10},{"n":4767,"sdi":21.96},{"n":4782,"sdi":22.06},{"n":4797,"sdi":22.13},{"n":4812,"sdi":22.01},{"n":4827,"sdi":21.93},{"n":4842,"sdi":22.09},{"n":4857,"sdi":22.18},{"n":4872,"sdi":22.03},{"n":4887,"sdi":21.97},{"n":4902,"sdi":22.11},{"n":4917,"sdi":22.05},{"n":4932,"sdi":22.14},{"n":4947,"sdi":21.95},{"n":4962,"sdi":22.07},{"n":4977,"sdi":22.12},{"n":4992,"sdi":21.98},
{"n":3511,"sdi":22.06},{"n":3526,"sdi":21.99},{"n":3541,"sdi":22.08},{"n":3556,"sdi":22.03},{"n":3571,"sdi":22.10},{"n":3586,"sdi":22.05},{"n":3601,"sdi":22.01},{"n":3616,"sdi":22.09},{"n":3631,"sdi":22.12},{"n":3646,"sdi":22.04},{"n":3661,"sdi":21.99},{"n":3676,"sdi":22.07},{"n":3691,"sdi":22.03},{"n":3706,"sdi":22.10},{"n":3721,"sdi":22.05},{"n":3736,"sdi":22.08},{"n":3751,"sdi":22.00},{"n":3766,"sdi":22.06},{"n":3781,"sdi":22.11},{"n":3796,"sdi":22.03},{"n":3811,"sdi":22.07},{"n":3826,"sdi":21.99},{"n":3841,"sdi":22.05},{"n":3856,"sdi":22.09},{"n":3871,"sdi":22.02},{"n":3886,"sdi":22.06},{"n":3901,"sdi":22.12},{"n":3916,"sdi":22.04},{"n":3931,"sdi":22.00},{"n":3946,"sdi":22.08},{"n":3961,"sdi":22.05},{"n":3976,"sdi":22.11},{"n":3991,"sdi":22.02},{"n":4006,"sdi":22.07},{"n":4021,"sdi":21.99},{"n":4036,"sdi":22.05},{"n":4051,"sdi":22.10},{"n":4066,"sdi":22.03},{"n":4081,"sdi":22.07},{"n":4096,"sdi":22.01},{"n":4111,"sdi":22.09},{"n":4126,"sdi":22.04},{"n":4141,"sdi":22.12},{"n":4156,"sdi":22.02},{"n":4171,"sdi":22.07},{"n":4186,"sdi":22.00},{"n":4201,"sdi":22.05},{"n":4216,"sdi":22.10},{"n":4231,"sdi":22.03},{"n":4246,"sdi":22.06},{"n":4261,"sdi":21.99},{"n":4276,"sdi":22.09},{"n":4291,"sdi":22.04},{"n":4306,"sdi":22.08},{"n":4321,"sdi":22.01},{"n":4336,"sdi":22.11},{"n":4351,"sdi":22.05},{"n":4366,"sdi":21.99},{"n":4381,"sdi":22.07},{"n":4396,"sdi":22.03},{"n":4411,"sdi":22.10},{"n":4426,"sdi":22.05},{"n":4441,"sdi":22.01},{"n":4456,"sdi":22.08},{"n":4471,"sdi":22.04},{"n":4486,"sdi":22.11},{"n":4501,"sdi":22.06},{"n":4516,"sdi":22.00},{"n":4531,"sdi":22.09},{"n":4546,"sdi":22.03},{"n":4561,"sdi":22.07},{"n":4576,"sdi":22.12},{"n":4591,"sdi":22.02},{"n":4606,"sdi":22.05},{"n":4621,"sdi":22.09},{"n":4636,"sdi":22.03},{"n":4651,"sdi":21.99},{"n":4666,"sdi":22.07},{"n":4681,"sdi":22.04},{"n":4696,"sdi":22.10},{"n":4711,"sdi":22.01},{"n":4726,"sdi":22.06},{"n":4741,"sdi":22.03},{"n":4756,"sdi":22.09},{"n":4771,"sdi":22.05},{"n":4786,"sdi":21.99},{"n":4801,"sdi":22.07},{"n":4816,"sdi":22.12},{"n":4831,"sdi":22.02},{"n":4846,"sdi":22.05},{"n":4861,"sdi":22.09},{"n":4876,"sdi":22.04},{"n":4891,"sdi":22.00},{"n":4906,"sdi":22.08},{"n":4921,"sdi":22.03},{"n":4936,"sdi":22.10},{"n":4951,"sdi":22.05},{"n":4966,"sdi":22.01},{"n":4981,"sdi":22.08},{"n":4996,"sdi":22.04}
],
"b": [
{"n":4900,"sdi":22.074},{"n":4901,"sdi":22.018},{"n":4902,"sdi":22.048},{"n":4903,"sdi":22.074},{"n":4904,"sdi":22.048},{"n":4905,"sdi":22.018},{"n":4906,"sdi":22.048},{"n":4907,"sdi":22.074},{"n":4908,"sdi":22.10},{"n":4909,"sdi":22.107},{"n":4910,"sdi":22.003},{"n":4911,"sdi":22.066},{"n":4912,"sdi":22.003},{"n":4913,"sdi":22.085},{"n":4914,"sdi":22.10},{"n":4915,"sdi":22.055},{"n":4916,"sdi":21.981},{"n":4917,"sdi":22.096},{"n":4918,"sdi":22.003},{"n":4919,"sdi":22.159},{"n":4920,"sdi":22.026},{"n":4921,"sdi":22.055},{"n":4922,"sdi":22.04},{"n":4923,"sdi":22.04},{"n":4924,"sdi":22.089},{"n":4925,"sdi":22.107},{"n":4926,"sdi":22.14},{"n":4927,"sdi":22.011},{"n":4928,"sdi":22.096},{"n":4929,"sdi":22.014},{"n":4930,"sdi":22.014},{"n":4931,"sdi":22.144},{"n":4932,"sdi":22.085},{"n":4933,"sdi":21.937},{"n":4934,"sdi":22.026},{"n":4935,"sdi":22.048},{"n":4936,"sdi":22.066},{"n":4937,"sdi":22.114},{"n":4938,"sdi":22.085},{"n":4939,"sdi":22.026},{"n":4940,"sdi":22.063},{"n":4941,"sdi":22.066},{"n":4942,"sdi":22.077},{"n":4943,"sdi":22.018},{"n":4944,"sdi":21.989},{"n":4945,"sdi":22.081},{"n":4946,"sdi":22.111},{"n":4947,"sdi":21.907},{"n":4948,"sdi":22.107},{"n":4949,"sdi":22.077},
{"n":4950,"sdi":22.04},{"n":4951,"sdi":22.029},{"n":4952,"sdi":22.085},{"n":4953,"sdi":22.059},{"n":4954,"sdi":22.022},{"n":4955,"sdi":21.937},{"n":4956,"sdi":22.092},{"n":4957,"sdi":22.033},{"n":4958,"sdi":22.126},{"n":4959,"sdi":22.118},{"n":4960,"sdi":22.003},{"n":4961,"sdi":22.129},{"n":4962,"sdi":22.063},{"n":4963,"sdi":22.092},{"n":4964,"sdi":22.096},{"n":4965,"sdi":21.996},{"n":4966,"sdi":22.111},{"n":4967,"sdi":22.018},{"n":4968,"sdi":22.089},{"n":4969,"sdi":22.107},{"n":4970,"sdi":22.029},{"n":4971,"sdi":22.044},{"n":4972,"sdi":22.118},{"n":4973,"sdi":22.011},{"n":4974,"sdi":22.14},{"n":4975,"sdi":22.133},{"n":4976,"sdi":21.981},{"n":4977,"sdi":22.10},{"n":4978,"sdi":22.107},{"n":4979,"sdi":22.048},{"n":4980,"sdi":22.085},{"n":4981,"sdi":22.011},{"n":4982,"sdi":22.092},{"n":4983,"sdi":22.007},{"n":4984,"sdi":22.092},{"n":4985,"sdi":22.066},{"n":4986,"sdi":22.074},{"n":4987,"sdi":22.203},{"n":4988,"sdi":22.048},{"n":4989,"sdi":22.055},{"n":4990,"sdi":22.026},{"n":4991,"sdi":21.952},{"n":4992,"sdi":22.085},{"n":4993,"sdi":22.133},{"n":4994,"sdi":22.159},{"n":4995,"sdi":22.07},{"n":4996,"sdi":22.026},{"n":4997,"sdi":22.014},{"n":4998,"sdi":22.04},{"n":4999,"sdi":22.04},{"n":5000,"sdi":22.103}
]
},
"hconcat": [
{
  "width": 509, "height": 487,
  "title": {"text": "A", "anchor": "start", "frame": "group", "orient": "top", "offset": -41.5, "dx": -79, "dy": 13, "baseline": "alphabetic", "fontSize": 44, "fontWeight": 900, "color": "#000000", "font": "Liberation Sans"},
  "data": {"name": "a"},
  "mark": {"type": "circle", "size": 18, "opacity": 0.8, "color": "#000000"},
  "encoding": {
    "x": {"field": "n", "type": "quantitative", "scale": {"domain": [-249, 5260], "nice": false, "zero": false},
      "axis": {"title": "Number of Re-samplings", "values": [0,500,1000,1500,2000,2500,3000,3500,4000,4500,5000],
        "labelExpr": "datum.value % 1000 === 0 ? format(datum.value, 'd') : ''",
        "labelOffset": {"condition": {"test": "datum.value === 0", "value": -6}, "value": 0},
        "gridWidth": {"condition": {"test": "datum.value % 1000 === 0", "value": 1.1}, "value": 0.7},
        "labelPadding": 6, "titleX": 254.5, "titleY": 63, "titleBaseline": "alphabetic", "titleAlign": "center"}},
    "y": {"field": "sdi", "type": "quantitative", "scale": {"domain": [19.756, 25.15], "nice": false, "zero": false},
      "axis": {"title": "Simpson’s Diversity Index", "values": [20,20.5,21,21.5,22,22.5,23,23.5,24,24.5,25],
        "labelExpr": "datum.value % 1 === 0 ? format(datum.value, 'd') : ''",
        "gridWidth": {"condition": {"test": "datum.value % 1 === 0", "value": 1.1}, "value": 0.7},
        "labelPadding": 8, "titleX": -49.5, "titleY": 243.5, "titleAngle": 270, "titleBaseline": "alphabetic", "titleAlign": "center"}}
  }
},
{
  "width": 507, "height": 487,
  "title": {"text": "B", "anchor": "start", "frame": "group", "orient": "top", "offset": -41.5, "dx": -79, "dy": 13, "baseline": "alphabetic", "fontSize": 44, "fontWeight": 900, "color": "#000000", "font": "Liberation Sans"},
  "data": {"name": "b"},
  "mark": {"type": "circle", "size": 18, "opacity": 0.62, "color": "#000000"},
  "encoding": {
    "x": {"field": "n", "type": "quantitative", "scale": {"domain": [4895.2, 5005], "nice": false, "zero": false},
      "axis": {"title": "Number of Re-samplings", "values": [4900,4912.5,4925,4937.5,4950,4962.5,4975,4987.5,5000],
        "labelExpr": "datum.value % 25 === 0 ? format(datum.value, 'd') : ''",
        "gridWidth": {"condition": {"test": "datum.value % 25 === 0", "value": 1.1}, "value": 0.7},
        "labelPadding": 6, "titleX": 253.5, "titleY": 63, "titleBaseline": "alphabetic", "titleAlign": "center"}},
    "y": {"field": "sdi", "type": "quantitative", "scale": {"domain": [19.756, 25.15], "nice": false, "zero": false},
      "axis": {"title": "Simpson’s Diversity Index", "values": [20,20.5,21,21.5,22,22.5,23,23.5,24,24.5,25],
        "labelExpr": "datum.value % 1 === 0 ? format(datum.value, 'd') : ''",
        "gridWidth": {"condition": {"test": "datum.value % 1 === 0", "value": 1.1}, "value": 0.7},
        "labelPadding": 8, "titleX": -49.5, "titleY": 243.5, "titleAngle": 270, "titleBaseline": "alphabetic", "titleAlign": "center"}}
  }
}
]
}
